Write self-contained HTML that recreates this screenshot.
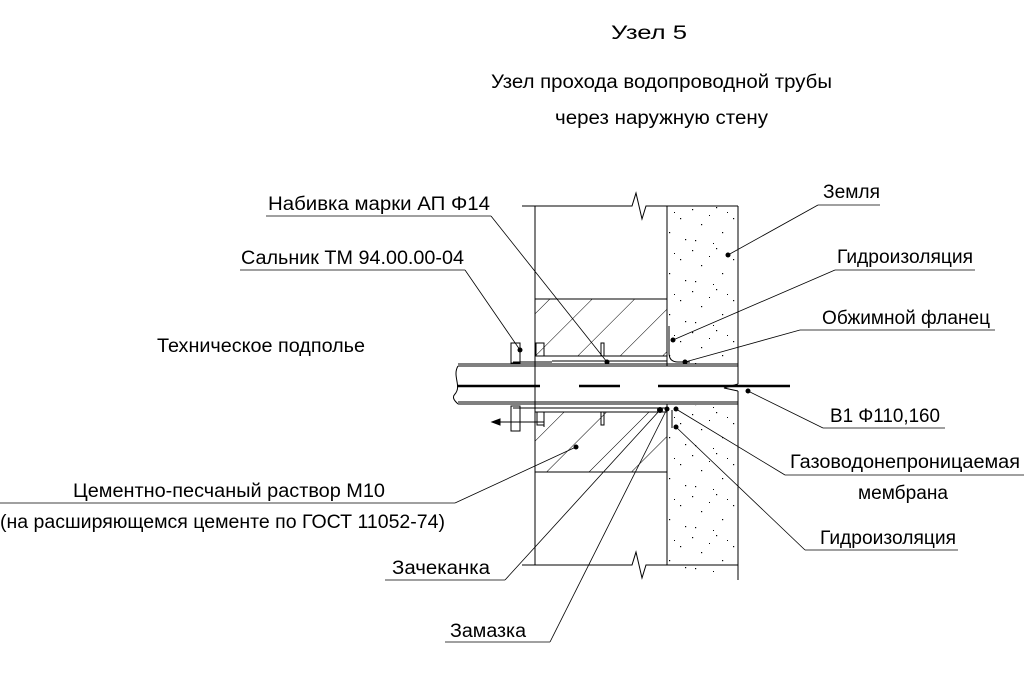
<!DOCTYPE html>
<html><head><meta charset="utf-8"><style>
html,body{margin:0;padding:0;background:#fff;}
svg{display:block;}
text{font-family:"Liberation Sans",sans-serif;font-size:19px;fill:#000;}
</style></head><body>
<svg width="1024" height="685" viewBox="0 0 1024 685" xmlns="http://www.w3.org/2000/svg">
<defs>
<pattern id="hat" patternUnits="userSpaceOnUse" width="30" height="30" patternTransform="rotate(45)">
<line x1="0" y1="0" x2="0" y2="30" stroke="#000" stroke-width="1"/>
</pattern>
<pattern id="dots" patternUnits="userSpaceOnUse" width="53" height="41">
<rect x="3" y="4" width="1.2" height="1.2" fill="#000"/><rect x="27" y="2" width="1.2" height="1.2" fill="#000"/>
<rect x="44" y="13" width="1.2" height="1.2" fill="#000"/><rect x="12" y="19" width="1.2" height="1.2" fill="#000"/>
<rect x="33" y="27" width="1.2" height="1.2" fill="#000"/><rect x="49" y="34" width="1.2" height="1.2" fill="#000"/>
<rect x="6" y="35" width="1.2" height="1.2" fill="#000"/><rect x="20" y="10" width="1" height="1" fill="#000"/>
<rect x="38" y="7" width="1" height="1" fill="#000"/><rect x="24" y="38" width="1" height="1" fill="#000"/>
</pattern>
</defs>
<g stroke="#000" fill="none" stroke-width="1">
<rect x="667" y="206" width="71" height="160" fill="url(#dots)" stroke="none"/>
<rect x="667" y="405" width="71" height="168" fill="url(#dots)" stroke="none"/>
<rect x="535" y="299" width="132" height="57" fill="url(#hat)" stroke="none"/>
<rect x="535" y="412" width="132" height="60" fill="url(#hat)" stroke="none"/>
<polyline points="522,206 632,206 636,193 642,219 646,206 738,206"/>
<polyline points="522,565 632,565 636,552 642,578 646,565 738,565"/>
<line x1="535" y1="206" x2="535" y2="565"/>
<line x1="667" y1="206" x2="667" y2="366"/>
<line x1="667" y1="404" x2="667" y2="565"/>
<line x1="738" y1="206" x2="738" y2="366"/>
<line x1="738" y1="391" x2="738" y2="580"/>
<line x1="535" y1="299" x2="667" y2="299"/>
<line x1="535" y1="472" x2="667" y2="472"/>
<line x1="535" y1="356" x2="667" y2="356"/>
<line x1="552" y1="361" x2="667" y2="361"/>
<line x1="513" y1="362" x2="552" y2="362"/>
<rect x="511" y="343" width="9" height="20"/>
<rect x="536" y="343" width="8" height="13"/>
<rect x="601" y="343" width="3" height="13"/>
<line x1="513" y1="408" x2="667" y2="408"/>
<line x1="535" y1="412" x2="667" y2="412"/>
<rect x="511" y="406" width="9" height="25"/>
<rect x="537" y="412" width="7" height="13"/>
<rect x="601" y="412" width="3" height="13"/>
<line x1="492" y1="422" x2="544" y2="422"/>
<polygon points="492,422 500,419 500,425" fill="#000"/>
<line x1="544" y1="412" x2="544" y2="427"/>
<path d="M458,366 C452,376 462,386 455,394 C451,398 456,402 458,404"/>
<line x1="458" y1="364" x2="738" y2="364"/>
<line x1="458" y1="366" x2="738" y2="366"/>
<line x1="458" y1="402" x2="738" y2="402"/>
<line x1="458" y1="404" x2="738" y2="404"/>
<line x1="738" y1="366" x2="738" y2="384"/>
<line x1="738" y1="404" x2="738" y2="391"/>
<path d="M738,384 L724,388 L738,391"/>
<g stroke-width="2.5">
<line x1="457" y1="386" x2="540" y2="386"/>
<line x1="579" y1="386" x2="620" y2="386"/>
<line x1="658" y1="386" x2="790" y2="386"/>
</g>
<path d="M669,326 V353 Q669,362 678,362 H690"/>
<path d="M672,410 V428"/>
<g stroke-width="0.8">
<line x1="266" y1="216" x2="491" y2="216"/><line x1="491" y1="216" x2="607" y2="362"/>
<line x1="240" y1="270" x2="465" y2="270"/><line x1="465" y1="270" x2="520" y2="350"/>
<line x1="818" y1="205" x2="880" y2="205"/><line x1="818" y1="205" x2="728" y2="255"/>
<line x1="835" y1="270" x2="975" y2="270"/><line x1="835" y1="270" x2="673" y2="340"/>
<line x1="800" y1="330" x2="995" y2="330"/><line x1="800" y1="330" x2="685" y2="362"/>
<line x1="823" y1="428" x2="945" y2="428"/><line x1="823" y1="428" x2="748" y2="391"/>
<line x1="785" y1="475" x2="1024" y2="475"/><line x1="785" y1="475" x2="676" y2="409"/>
<line x1="805" y1="550" x2="958" y2="550"/><line x1="805" y1="550" x2="676" y2="427"/>
<line x1="0" y1="503" x2="455" y2="503"/><line x1="455" y1="503" x2="576" y2="447"/>
<line x1="385" y1="580" x2="505" y2="580"/><line x1="505" y1="580" x2="660" y2="410"/>
<line x1="445" y1="642" x2="550" y2="642"/><line x1="550" y1="642" x2="667" y2="409"/>
</g>
</g>
<g fill="#000">
<circle cx="607" cy="362" r="2.5"/><circle cx="520" cy="350" r="2.5"/><circle cx="728" cy="255" r="2.5"/>
<circle cx="673" cy="340" r="2.5"/><circle cx="685" cy="362" r="2.5"/><circle cx="748" cy="391" r="2.5"/>
<circle cx="676" cy="409" r="2.5"/><circle cx="676" cy="427" r="2.5"/><circle cx="576" cy="447" r="2.5"/>
<circle cx="660" cy="410" r="3"/><circle cx="667" cy="409" r="2.5"/>
</g>
<text x="611" y="39" font-size="24" textLength="76" lengthAdjust="spacingAndGlyphs">Узел 5</text>
<text x="491" y="88" textLength="341" lengthAdjust="spacingAndGlyphs">Узел прохода водопроводной трубы</text>
<text x="555" y="124" textLength="213" lengthAdjust="spacingAndGlyphs">через наружную стену</text>
<text x="268" y="210" textLength="222" lengthAdjust="spacingAndGlyphs">Набивка марки АП Φ14</text>
<text x="241" y="264" textLength="223" lengthAdjust="spacingAndGlyphs">Сальник ТМ 94.00.00-04</text>
<text x="157" y="352" textLength="208" lengthAdjust="spacingAndGlyphs">Техническое подполье</text>
<text x="823" y="198" textLength="57" lengthAdjust="spacingAndGlyphs">Земля</text>
<text x="837" y="263" textLength="136" lengthAdjust="spacingAndGlyphs">Гидроизоляция</text>
<text x="822" y="324" textLength="168" lengthAdjust="spacingAndGlyphs">Обжимной фланец</text>
<text x="830" y="422" textLength="110" lengthAdjust="spacingAndGlyphs">В1 Φ110,160</text>
<text x="790" y="468" textLength="230" lengthAdjust="spacingAndGlyphs">Газоводонепроницаемая</text>
<text x="858" y="499" textLength="90" lengthAdjust="spacingAndGlyphs">мембрана</text>
<text x="820" y="544" textLength="136" lengthAdjust="spacingAndGlyphs">Гидроизоляция</text>
<text x="73" y="497" textLength="312" lengthAdjust="spacingAndGlyphs">Цементно-песчаный раствор М10</text>
<text x="0" y="528" textLength="445" lengthAdjust="spacingAndGlyphs">(на расширяющемся цементе по ГОСТ 11052-74)</text>
<text x="392" y="574" textLength="98" lengthAdjust="spacingAndGlyphs">Зачеканка</text>
<text x="450" y="637" textLength="76" lengthAdjust="spacingAndGlyphs">Замазка</text>
</svg>
</body></html>
